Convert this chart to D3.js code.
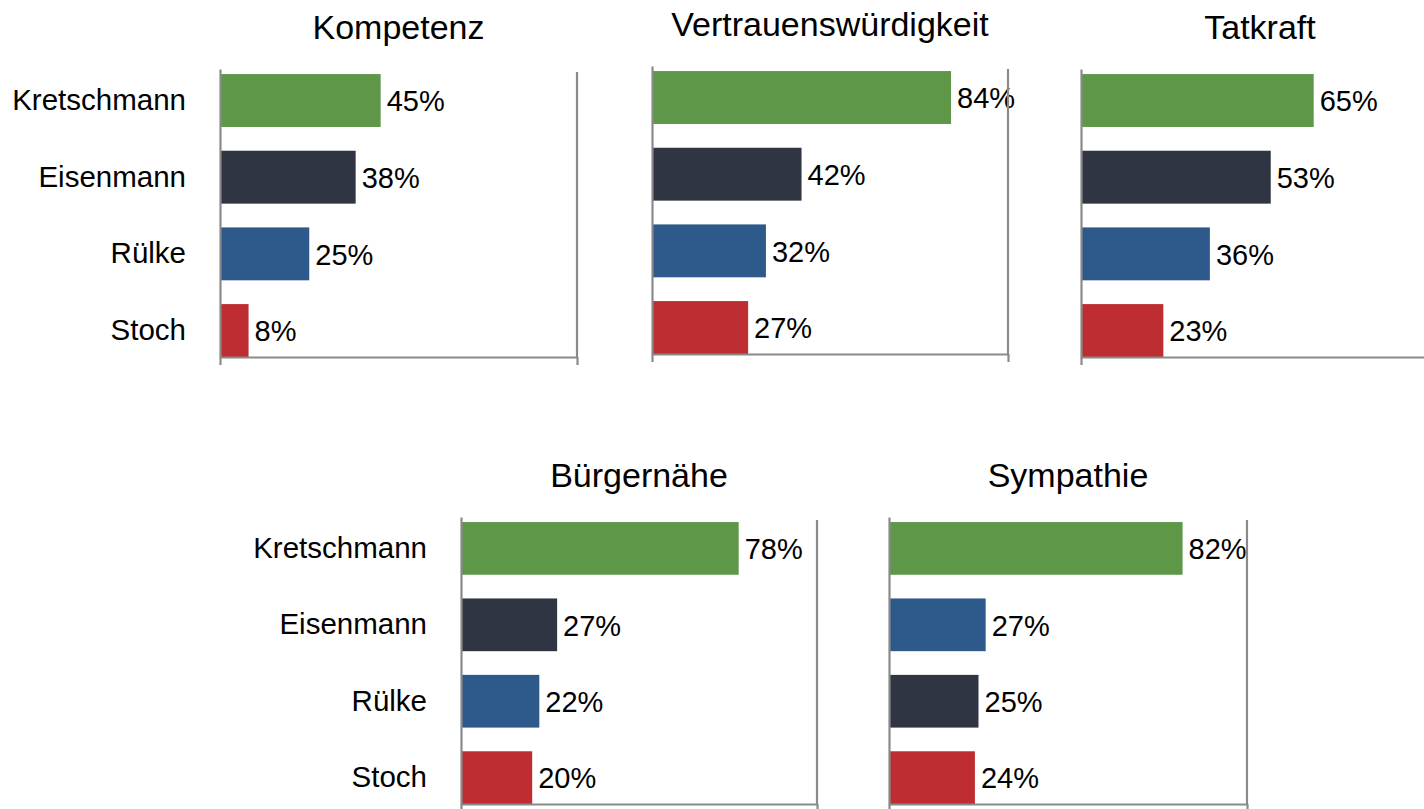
<!DOCTYPE html>
<html>
<head>
<meta charset="utf-8">
<script src="https://cdn.jsdelivr.net/npm/d3@7"></script>
<style>
  body { margin: 0; background: #fff; }
  svg { display: block; font-family: "Liberation Sans", Arial, sans-serif; }
  .axis path, .axis line { stroke: #8a8a8a; stroke-width: 2.2; }
  .axis text { fill: #000; font-size: 29.5px; }
</style>
</head>
<body>
<div id="chart"></div>
<script>
// data
var titles = ["Kompetenz", "Vertrauenswürdigkeit", "Tatkraft", "Bürgernähe", "Sympathie"];
var candidates = ["Kretschmann", "Eisenmann", "Rülke", "Stoch"];
var colors = ["#5f9749", "#2f3542", "#2e598b", "#bd2d31"];

var kompetenz = [45, 38, 25, 8];
var vertrauen = [84, 42, 32, 27];
var tatkraft = [65, 53, 36, 23];
var buergernaehe = [78, 27, 22, 20];
// Sympathie is sorted differently: Kretschmann, Rülke, Eisenmann, Stoch
var sympathieOrder = ["Kretschmann", "Rülke", "Eisenmann", "Stoch"];
var sympathie = [82, 27, 25, 24];

var panelData = [
  {title: titles[0], names: candidates, values: kompetenz, labels: true},
  {title: titles[1], names: candidates, values: vertrauen, labels: false},
  {title: titles[2], names: candidates, values: tatkraft, labels: false},
  {title: titles[3], names: candidates, values: buergernaehe, labels: true},
  {title: titles[4], names: sympathieOrder, values: sympathie, labels: false}
];

// layout of each small chart (left, right = 100%, top of axis, bottom)
var layout = [
  {left: 220, right: 577, top: 69, bottom: 357},
  {left: 652, right: 1008, top: 66, bottom: 354},
  {left: 1081, right: 1439, top: 69, bottom: 357},
  {left: 461, right: 817, top: 517, bottom: 804},
  {left: 889, right: 1247, top: 517, bottom: 804}
];

var svg = d3.select("#chart").append("svg")
    .attr("width", 1424)
    .attr("height", 809);

var colorOf = d3.scaleOrdinal().domain(candidates).range(colors);

panelData.forEach(function(p, i) {
  var L = layout[i];
  var g = svg.append("g");

  var x = d3.scaleLinear().domain([0, 100]).range([L.left, L.right]);
  var y = d3.scaleBand()
      .domain(p.names)
      .range([L.top, L.bottom])
      .paddingInner(0.31)
      .paddingOuter(0.033)
      .align(1);

  // title
  g.append("text")
      .attr("x", (L.left + L.right) / 2)
      .attr("y", L.top - 30)
      .attr("text-anchor", "middle")
      .style("font-size", "34px")
      .text(p.title);

  // bars
  g.selectAll("rect")
      .data(p.values)
    .enter().append("rect")
      .attr("x", x(0))
      .attr("y", function(d, j) { return y(p.names[j]); })
      .attr("width", function(d) { return x(d) - x(0); })
      .attr("height", y.bandwidth())
      .attr("fill", function(d, j) { return colorOf(p.names[j]); });

  // value labels
  g.selectAll(".val")
      .data(p.values)
    .enter().append("text")
      .attr("class", "val")
      .attr("x", function(d) { return x(d) + 6; })
      .attr("y", function(d, j) { return y(p.names[j]) + y.bandwidth() / 2; })
      .attr("dy", "0.37em")
      .style("font-size", "29px")
      .text(function(d) { return d + "%"; });

  // right border at 100%
  g.append("line")
      .attr("x1", x(100)).attr("x2", x(100))
      .attr("y1", L.top + 3).attr("y2", L.bottom)
      .attr("stroke", "#8a8a8a")
      .attr("stroke-width", 2.2);

  // x axis: only the end ticks, no labels
  g.append("g")
      .attr("class", "axis")
      .attr("transform", "translate(0," + L.bottom + ")")
      .call(d3.axisBottom(x).tickValues([0, 100]).tickSize(8).tickSizeOuter(0).tickFormat(""));

  // y axis with candidate names
  g.append("g")
      .attr("class", "axis")
      .attr("transform", "translate(" + L.left + ",0)")
      .call(d3.axisLeft(y).tickSize(0).tickSizeOuter(0).tickPadding(34)
        .tickFormat(function(d) { return p.labels ? d : ""; }));
});
</script>
</body>
</html>
